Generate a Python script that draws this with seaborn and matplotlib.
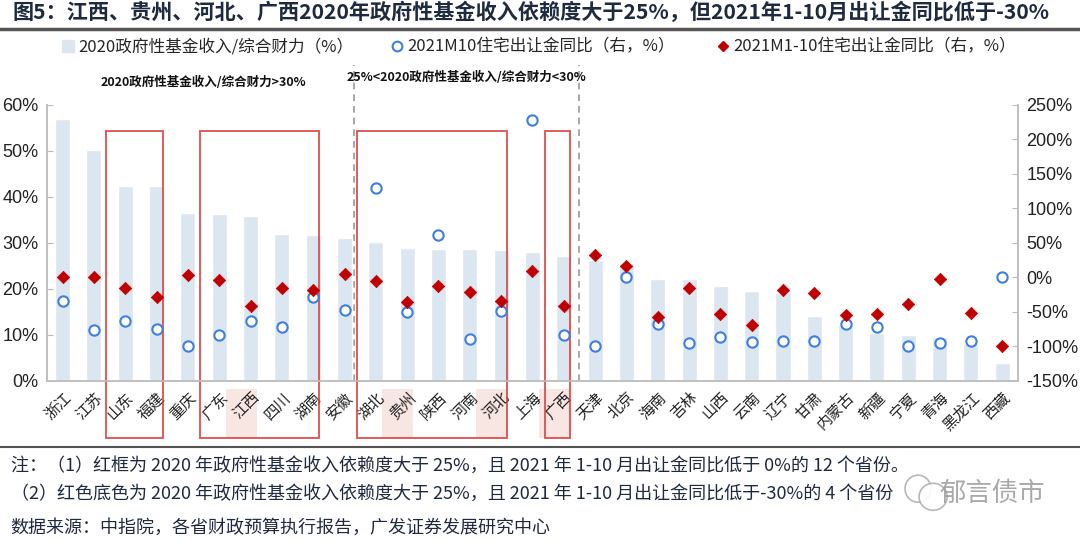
import numpy as np
import pandas as pd
import seaborn as sns
import matplotlib.pyplot as plt
import matplotlib.transforms as mtransforms
from matplotlib.patches import Rectangle, Ellipse
from matplotlib.lines import Line2D

# province names in chart order
provinces = ["浙江", "江苏", "山东", "福建", "重庆", "广东", "江西", "四川", "湖南", "安徽",
             "湖北", "贵州", "陕西", "河南", "河北", "上海", "广西", "天津", "北京", "海南",
             "吉林", "山西", "云南", "辽宁", "甘肃", "内蒙古", "新疆", "宁夏", "青海", "黑龙江", "西藏"]

# 2020 government fund income / total fiscal capacity (%), left axis
fund_ratio = [56.9, 50.2, 42.4, 42.3, 36.5, 36.3, 35.9, 32.0, 31.8, 31.1,
              30.2, 28.8, 28.6, 28.6, 28.5, 27.9, 27.1, 26.2, 25.7, 22.2,
              22.2, 20.5, 19.6, 19.1, 14.1, 12.1, 10.3, 10.0, 9.5, 8.0, 3.9]

# 2021M10 residential land revenue yoy (%), right axis
m10_yoy = [-35, -77, -64, -75, -100, -83, -64, -72, -29, -47,
           130, -51, 62, -89, -49, 228, -84, -100, 0, -68,
           -96, -87, -94, -93, -92, -68, -72, -100, -96, -93, 0]

# 2021M1-10 residential land revenue yoy (%), right axis
m1_10_yoy = [0, 1, -16, -29, 3, -4, -41, -16, -18, 5,
             -6, -36, -12, -22, -34, 9, -42, 33, 17, -58,
             -16, -53, -69, -18, -23, -54, -53, -39, -3, -52, -100]

# red boxes (first, last province index) and pink-shaded labels
box_groups = [(2, 3), (5, 8), (10, 14), (16, 16)]
shaded = ["江西", "贵州", "河北", "广西"]

df = pd.DataFrame({"province": provinces, "fund": fund_ratio,
                   "m10": m10_yoy, "m110": m1_10_yoy})
df["pos"] = np.arange(len(df))

sns.set_style("white")
plt.rcParams["font.family"] = ["Noto Sans CJK SC", "DejaVu Sans"]
plt.rcParams["axes.unicode_minus"] = False

fig = plt.figure(figsize=(10.8, 5.4), dpi=100)
ax = fig.add_axes([0.0435, 0.295, 0.899, 0.5106])

bar_color = "#DCE6F1"
circle_color = "#3F7FE0"
diamond_color = "#C00000"
box_color = "#E03A3A"
text_color = "#1E2A3E"
num_font = ["Liberation Sans", "DejaVu Sans"]

sns.barplot(data=df, x="province", y="fund", color=bar_color, width=0.48,
            saturation=1, ax=ax, zorder=2)
ax.set_xlim(-0.5, len(df) - 0.5)
ax.set_ylim(0, 60)
ax.set_yticks(np.arange(0, 61, 10))
ax.set_yticklabels([f"{v}%" for v in range(0, 61, 10)], fontsize=13,
                   family=num_font, color="#222222")
ax.set_xlabel("")
ax.set_ylabel("")
ax.set_xticks(np.arange(len(df)))
ax.set_xticklabels(provinces, rotation=45, ha="right", rotation_mode="anchor",
                   fontsize=11, color="#222222")
shift = mtransforms.ScaledTranslation(-5 / 100, 0, fig.dpi_scale_trans)
for lab in ax.get_xticklabels():
    lab.set_transform(lab.get_transform() + shift)
ax.tick_params(axis="x", length=0, pad=6)
ax.set_xticks(np.arange(len(df) + 1) - 0.5, minor=True)
ax.tick_params(axis="x", which="minor", direction="in", length=4, color="#BBBBBB")
ax.tick_params(axis="y", direction="in", length=4, color="#BBBBBB", pad=6)

ax2 = ax.twinx()
sns.scatterplot(data=df, x="pos", y="m10", marker="o", s=55, facecolor="white",
                edgecolor=circle_color, linewidth=1.5, ax=ax2, zorder=4)
sns.scatterplot(data=df, x="pos", y="m110", marker="D", s=40, color=diamond_color,
                edgecolor=diamond_color, ax=ax2, zorder=5)
ax2.set_ylim(-150, 250)
ax2.set_yticks(np.arange(-150, 251, 50))
ax2.set_yticklabels([f"{v}%" for v in range(-150, 251, 50)], fontsize=13,
                    family=num_font, color="#222222")
ax2.set_xlabel("")
ax2.set_ylabel("")
ax2.tick_params(axis="y", direction="in", length=4, color="#BBBBBB", pad=6)
ax2.set_xlim(-0.5, len(df) - 0.5)

for a in (ax, ax2):
    a.spines["top"].set_visible(False)
    for side in ("left", "right", "bottom"):
        a.spines[side].set_color("#BFBFBF")
        a.spines[side].set_linewidth(1.2)

# pink shading behind selected labels
for name in shaded:
    i = provinces.index(name)
    ax.add_patch(Rectangle((i - 0.8, -12.4), 1.0, 10.6, facecolor="#F8E6E3",
                           edgecolor="none", clip_on=False, zorder=0))

# red boxes around provinces
for first, last in box_groups:
    x0 = first - 0.6
    x1 = last + 0.2
    ax.add_patch(Rectangle((x0, -12.4), x1 - x0, 66.8, facecolor="none",
                           edgecolor=box_color, linewidth=1.3, alpha=0.9,
                           clip_on=False, zorder=6))

# dashed group separators
for xv in (9.3, 16.5):
    ax.plot([xv, xv], [0, 68.7], ls=(0, (4, 3)), color="#999999", lw=1.2,
            clip_on=False, zorder=1)

ax.text(4.5, 65.0, "2020政府性基金收入/综合财力>30%", ha="center", va="center",
        fontsize=9, fontweight="bold", color="#111111")
ax.text(12.9, 66.1, "25%<2020政府性基金收入/综合财力<30%", ha="center", va="center",
        fontsize=9, fontweight="bold", color="#111111")

# legend across the top, one entry per slot
handles = [
    Line2D([], [], marker="s", ls="none", markersize=8, markerfacecolor=bar_color,
           markeredgecolor=bar_color),
    Line2D([], [], marker="o", ls="none", markersize=7, markerfacecolor="white",
           markeredgecolor=circle_color, markeredgewidth=1.5),
    Line2D([], [], marker="D", ls="none", markersize=5, color=diamond_color),
]
labels = ["2020政府性基金收入/综合财力（%）", "2021M10住宅出让金同比（右，%）",
          "2021M1-10住宅出让金同比（右，%）"]
for h, lab, xa in zip(handles, labels, (0.0556, 0.360, 0.662)):
    fig.legend([h], [lab], loc="center left", bbox_to_anchor=(xa, 0.913),
               frameon=False, fontsize=12, handletextpad=0.1, handlelength=1.0,
               borderaxespad=0, borderpad=0)

# title and rules
fig.text(0.012, 0.977, "图5：江西、贵州、河北、广西2020年政府性基金收入依赖度大于25%，但2021年1-10月出让金同比低于-30%",
         ha="left", va="center", fontsize=15.2, fontweight="bold", color=text_color)
fig.add_artist(Line2D([0, 1], [0.947, 0.947], color="#555555", lw=2.5,
                      transform=fig.transFigure))
fig.add_artist(Line2D([0, 1], [0.172, 0.172], color="#555555", lw=1.5,
                      transform=fig.transFigure))

notes = ["注：（1）红框为 2020 年政府性基金收入依赖度大于 25%，且 2021 年 1-10 月出让金同比低于 0%的 12 个省份。",
         "（2）红色底色为 2020 年政府性基金收入依赖度大于 25%，且 2021 年 1-10 月出让金同比低于-30%的 4 个省份",
         "数据来源：中指院，各省财政预算执行报告，广发证券发展研究中心"]
for y, line in zip((0.137, 0.085, 0.022), notes):
    fig.text(0.010, y, line, ha="left", va="center", fontsize=13, color=text_color)

# watermark
for cx, cy, w, h in ((0.850, 0.095, 0.024, 0.050), (0.864, 0.080, 0.026, 0.050)):
    fig.add_artist(Ellipse((cx, cy), w, h, transform=fig.transFigure,
                           facecolor="white", edgecolor="#B0B0B0", lw=1.2, alpha=0.9))
fig.text(0.870, 0.087, "郁言债市", ha="left", va="center", fontsize=19,
         color="#9A9A9A", alpha=0.85)

fig.savefig("out.png", dpi=100)
